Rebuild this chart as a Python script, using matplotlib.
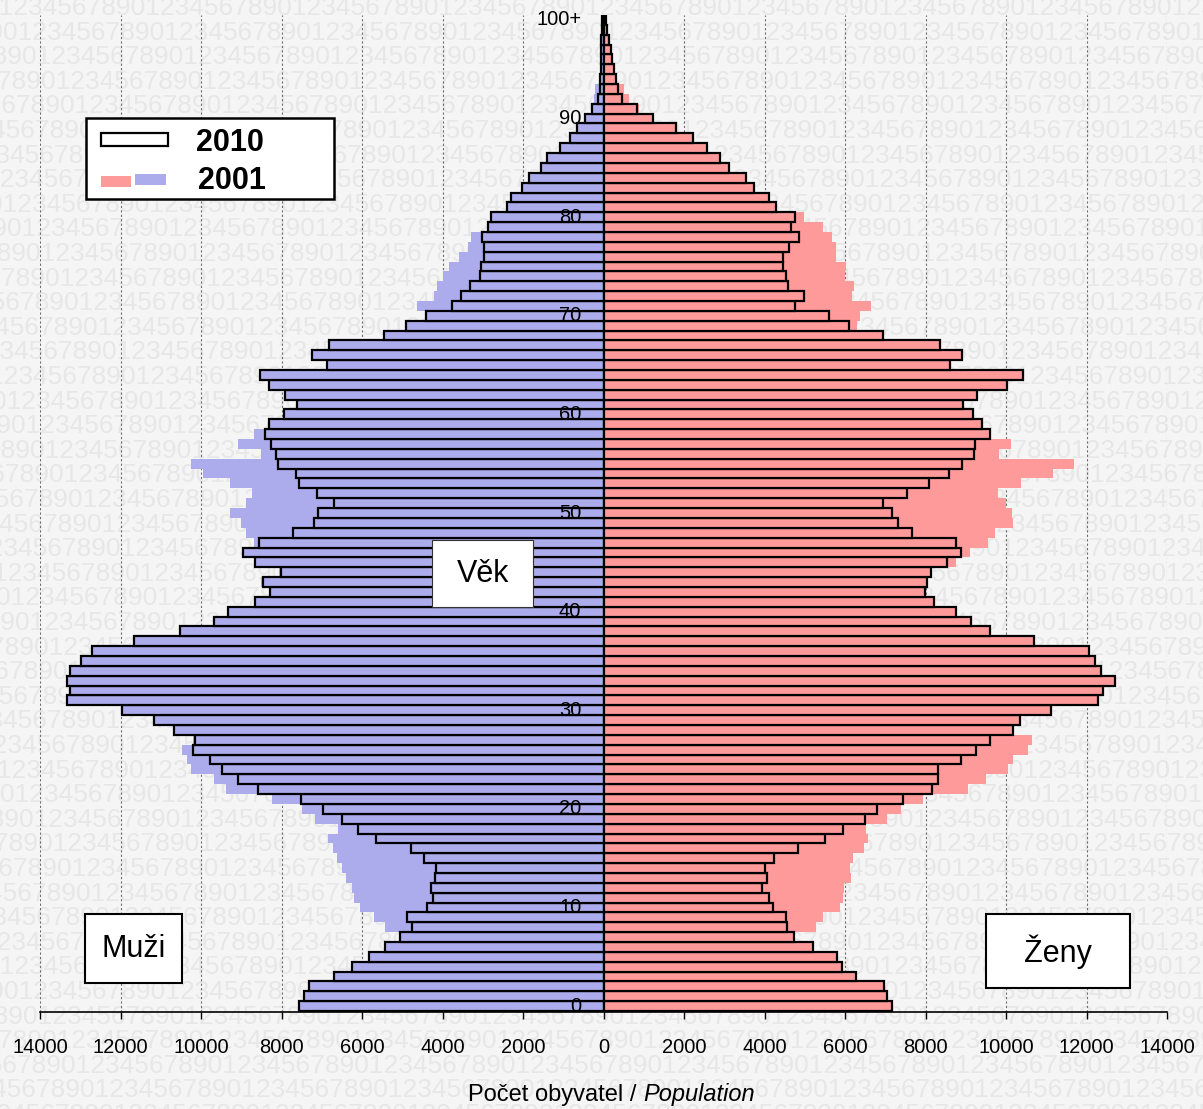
import numpy as np
import matplotlib
matplotlib.use("Agg")
import matplotlib.pyplot as plt
from matplotlib.patches import Rectangle
from matplotlib.ticker import FuncFormatter

plt.rcParams['font.family'] = ['Liberation Sans', 'DejaVu Sans']

# ages 0 .. 100+
ages = list(range(101))
age_labels = ['0', '10', '20', '30', '40', '50', '60', '70', '80', '90', '100+']

men_2010 = [
    7559, 7431, 7312, 6697, 6238, 5816, 5431, 5064, 4770, 4881,
    4376, 4238, 4293, 4183, 4165, 4459, 4789, 5651, 6110, 6486,
    6972, 7514, 8587, 9082, 9468, 9770, 10192, 10137, 10660, 11156,
    11963, 13321, 13247, 13321, 13266, 12981, 12697, 11669, 10523, 9679,
    9330, 8669, 8293, 8449, 8018, 8669, 8963, 8550, 7706, 7192,
    7092, 6697, 7128, 7569, 7651, 8092, 8147, 8257, 8403, 8303,
    7945, 7614, 7908, 8321, 8523, 6871, 7238, 6825, 5459, 4899,
    4422, 3752, 3550, 3321, 3064, 3046, 2972, 2972, 3027, 2862,
    2807, 2404, 2294, 2037, 1844, 1550, 1394, 1083, 844, 670,
    450, 290, 130, 90, 80, 70, 70, 50, 50, 40,
    40]

men_2001 = [
    4300, 4200, 4250, 4300, 4350, 4500, 4700, 5000, 5431, 5706,
    6046, 6211, 6257, 6394, 6486, 6624, 6715, 6853, 6605, 7174,
    7495, 8229, 9376, 9679, 10247, 10339, 10476, 10201, 10300, 10000,
    9500, 9000, 8600, 8400, 8200, 8000, 7900, 8100, 8300, 8400,
    8400, 8300, 8100, 8500, 8064, 8688, 8800, 8688, 8871, 9009,
    9284, 8890, 8733, 9284, 9945, 10247, 8504, 9073, 8688, 8200,
    7800, 7500, 7600, 7700, 7800, 6500, 6900, 6600, 5300, 4800,
    4300, 4624, 4220, 4147, 4000, 3850, 3600, 3370, 3280, 2800,
    2700, 2300, 2200, 1950, 1750, 1500, 1300, 1000, 800, 600,
    420, 280, 230, 200, 120, 60, 50, 40, 30, 20,
    20]

women_2010 = [
    7174, 7046, 6972, 6284, 5917, 5789, 5211, 4725, 4560, 4541,
    4202, 4101, 3945, 4064, 4009, 4248, 4835, 5504, 5945, 6495,
    6789, 7431, 8165, 8312, 8312, 8871, 9266, 9596, 10165, 10339,
    11119, 12275, 12404, 12715, 12367, 12202, 12073, 10688, 9596, 9137,
    8761, 8202, 7981, 8027, 8147, 8532, 8881, 8761, 7660, 7312,
    7174, 6936, 7550, 8091, 8587, 8899, 9193, 9229, 9596, 9413,
    9174, 8926, 9284, 10018, 10412, 8605, 8899, 8367, 6945, 6110,
    5596, 4770, 4981, 4587, 4541, 4468, 4470, 4620, 4860, 4660,
    4770, 4280, 4110, 3740, 3530, 3120, 2900, 2570, 2230, 1790,
    1240, 830, 450, 370, 300, 260, 220, 180, 140, 80,
    60]

women_2001 = [
    4100, 4000, 4050, 4100, 4150, 4300, 4500, 4700, 5275, 5459,
    5872, 5945, 5963, 6147, 6128, 6202, 6477, 6578, 6514, 7046,
    7385, 7936, 9064, 9513, 10046, 10165, 10550, 10642, 10000, 9700,
    9200, 8700, 8300, 8100, 7900, 7700, 7600, 7800, 8000, 8100,
    8200, 8000, 7800, 7900, 8000, 8761, 9101, 9560, 9724, 10183,
    10137, 9999, 9789, 10367, 11174, 11697, 9816, 10119, 9500, 9200,
    8900, 8700, 9000, 9700, 10100, 8400, 8700, 8200, 6800, 6303,
    6376, 6651, 6174, 6220, 6009, 6018, 5780, 5780, 5688, 5458,
    4972, 4200, 4000, 3650, 3400, 3000, 2800, 2500, 2150, 1700,
    1200, 885, 630, 500, 330, 200, 150, 120, 90, 50,
    40]

BLUE = '#acacec'
PINK = '#ff9a9a'
BG = '#f5f5f5'
W, H = 1203, 1109


def fx(x):
    return x / W


def fy(y):
    return 1 - y / H


def box(x0, y0, x1, y1, face='white', edge='black', lw=1.5, z=10):
    r = Rectangle((fx(x0), fy(y1)), (x1 - x0) / W, (y1 - y0) / H,
                  transform=fig.transFigure, facecolor=face,
                  edgecolor=edge, linewidth=lw, zorder=z)
    fig.add_artist(r)


fig = plt.figure(figsize=(W / 100, H / 100), dpi=100)
fig.patch.set_facecolor(BG)

# background watermark of digits
for k, y in enumerate(np.arange(8, H + 20, 24.6)):
    x0 = (k * 19) % 148 - 148
    fig.text(fx(x0), fy(y), '1234567890' * 10, fontsize=19,
             color='#e7e7e7', va='center', ha='left', zorder=-5)

ax = fig.add_axes([fx(40), fy(1012), 1127 / W, 997 / H])
ax.set_facecolor('none')

men_pos = -np.array(men_2010)
men_old = -np.array(men_2001)

# 2001 bars behind, 2010 outlined bars on top
ax.barh(ages, men_old, height=1.0, color=BLUE, linewidth=0, zorder=2)
ax.barh(ages, women_2001, height=1.0, color=PINK, linewidth=0, zorder=2)
ax.barh(ages, men_pos, height=1.0, color=BLUE, edgecolor='black',
        linewidth=1.6, zorder=3)
ax.barh(ages, women_2010, height=1.0, color=PINK, edgecolor='black',
        linewidth=1.6, zorder=3)

ax.axvline(0, color='black', lw=1.2, zorder=4)

ax.set_xlim(-14000, 14000)
ax.set_ylim(-0.6, 100.5)
ax.set_xticks(np.arange(-14000, 14001, 2000))
ax.xaxis.set_major_formatter(FuncFormatter(lambda v, p: f'{abs(int(v))}'))
ax.tick_params(axis='x', direction='out', length=5, width=1,
               labelsize=14.5, pad=14)
ax.set_yticks([])
for s in ['left', 'right', 'top']:
    ax.spines[s].set_visible(False)
ax.spines['bottom'].set_linewidth(1.2)
ax.grid(axis='x', linestyle=(0, (2, 2)), color='#6e6e6e', lw=0.8)
ax.set_axisbelow(True)

for i, lab in enumerate(age_labels):
    ax.text(-550, i * 10, lab, ha='right', va='center', fontsize=14.5,
            zorder=6)

# axis title with italic English part
fig.text(fx(636), fy(1095), 'Počet obyvatel /', fontsize=17,
         ha='right', va='center')
fig.text(fx(643), fy(1095), 'Population', fontsize=17, style='italic',
         ha='left', va='center')

# legend
box(86, 118, 334, 199, lw=1.8)
box(101, 133, 168, 146, lw=1.6, z=11)
box(101, 176, 131, 187, face=PINK, edge='none', lw=0, z=11)
box(135, 174, 166, 185, face=BLUE, edge='none', lw=0, z=11)
fig.text(fx(230), fy(143), '2010', fontsize=22, fontweight='bold',
         ha='center', va='center', zorder=12)
fig.text(fx(232), fy(181), '2001', fontsize=22, fontweight='bold',
         ha='center', va='center', zorder=12)

# labels in boxes
box(432, 540, 533, 607, edge='#333333', lw=0.8)
fig.text(fx(483), fy(574), 'Věk', fontsize=22, ha='center', va='center',
         zorder=12)
box(85, 914, 182, 983, lw=1.5)
fig.text(fx(134), fy(949), 'Muži', fontsize=22, ha='center', va='center',
         zorder=12)
box(986, 914, 1130, 988, lw=1.5)
fig.text(fx(1058), fy(952), 'Ženy', fontsize=22, ha='center', va='center',
         zorder=12)

fig.savefig('out.png', dpi=100, facecolor=BG)
